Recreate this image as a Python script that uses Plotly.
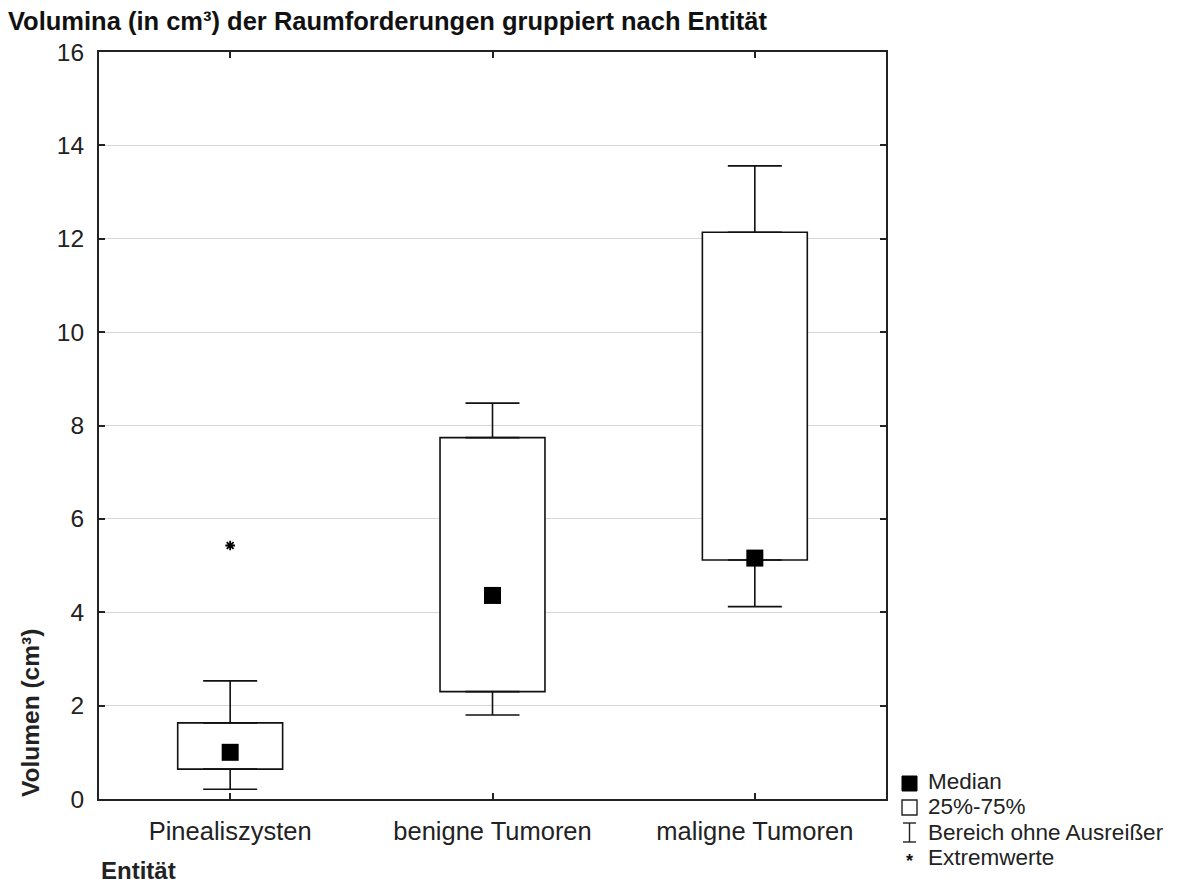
import plotly.graph_objects as go

# Volume statistics per entity (cm³)
categories = ["Pinealiszysten", "benigne Tumoren", "maligne Tumoren"]
whisker_low = [0.21, 1.80, 4.12]
q1 = [0.64, 2.30, 5.12]
median = [1.00, 4.36, 5.16]
q3 = [1.63, 7.74, 12.14]
whisker_high = [2.53, 8.48, 13.56]
extreme_cat = ["Pinealiszysten"]
extreme_val = [5.43]

y_ticks = [0, 2, 4, 6, 8, 10, 12, 14, 16]

legend_labels = ["Median", "25%-75%", "Bereich ohne Ausreißer", "Extremwerte"]

FONT = "Liberation Sans, Arial, sans-serif"
W, H = 1198, 885
ML, MR, MT, MB = 99, 312, 52, 86
PW, PH = W - ML - MR, H - MT - MB


def px(x):
    return (x - ML) / PW


def py(y):
    return (H - MB - y) / PH


fig = go.Figure()

# upper whiskers (q3 -> upper bound)
fig.add_trace(go.Scatter(
    x=categories, y=q3, mode="markers", marker=dict(size=1, opacity=0),
    error_y=dict(type="data", symmetric=False,
                 array=[h - t for h, t in zip(whisker_high, q3)],
                 arrayminus=[0, 0, 0],
                 color="#111", thickness=1.6, width=27),
    showlegend=False, hoverinfo="skip"))

# lower whiskers (q1 -> lower bound)
fig.add_trace(go.Scatter(
    x=categories, y=q1, mode="markers", marker=dict(size=1, opacity=0),
    error_y=dict(type="data", symmetric=False,
                 array=[0, 0, 0],
                 arrayminus=[b - l for b, l in zip(q1, whisker_low)],
                 color="#111", thickness=1.6, width=27),
    showlegend=False, hoverinfo="skip"))

# interquartile boxes
fig.add_trace(go.Bar(
    x=categories, base=q1, y=[t - b for t, b in zip(q3, q1)],
    width=0.4, marker=dict(color="white", line=dict(color="#111", width=1.6)),
    showlegend=False, hoverinfo="skip"))

# medians
fig.add_trace(go.Scatter(
    x=categories, y=median, mode="markers",
    marker=dict(symbol="square", size=17, color="black"),
    showlegend=False))

# extreme values
fig.add_trace(go.Scatter(
    x=extreme_cat, y=extreme_val, mode="markers",
    marker=dict(symbol="asterisk-open", size=8, color="black",
                line=dict(color="black", width=1.8)),
    showlegend=False))

axis_common = dict(
    showline=True, linecolor="#222", linewidth=2, mirror="allticks",
    ticks="inside", ticklen=6, tickcolor="#222", tickwidth=1.5,
    zeroline=False,
)

fig.update_xaxes(
    type="category", categoryorder="array", categoryarray=categories,
    range=[-0.5, 2.5], showgrid=False, ticklabelstandoff=8,
    tickfont=dict(family=FONT, size=25.5, color="#222"),
    **axis_common)
fig.update_yaxes(
    range=[0, 16], tickvals=y_ticks, showgrid=True,
    gridcolor="#d6d6d6", gridwidth=1, ticklabelstandoff=8,
    tickfont=dict(family=FONT, size=24.5, color="#222"),
    **axis_common)

annotations = [
    dict(text="<b>Volumen (cm³)</b>", textangle=-90, x=px(30), y=py(713),
         xref="paper", yref="paper", xanchor="center", yanchor="middle",
         showarrow=False, font=dict(family=FONT, size=24.5, color="#222")),
    dict(text="<b>Entität</b>", x=px(99), y=py(870),
         xref="paper", yref="paper", xanchor="left", yanchor="middle",
         showarrow=False, font=dict(family=FONT, size=24, color="#222")),
]

shapes = []
row_y = [781, 806.5, 832, 857.5]
for label, ry in zip(legend_labels, row_y):
    annotations.append(dict(
        text=label, x=px(926), y=py(ry), xref="paper", yref="paper",
        xanchor="left", yanchor="middle", showarrow=False,
        font=dict(family=FONT, size=22.5, color="#222")))

# legend glyphs
shapes.append(dict(type="rect", xref="paper", yref="paper",
                   x0=px(902), x1=px(917), y0=py(791), y1=py(776),
                   fillcolor="black", line=dict(color="black", width=1)))
shapes.append(dict(type="rect", xref="paper", yref="paper",
                   x0=px(902), x1=px(917), y0=py(815), y1=py(800),
                   fillcolor="white", line=dict(color="#222", width=1.4)))
for (x0, y0, x1, y1) in [(903, 823, 916, 823), (909.5, 823, 909.5, 842), (903, 842, 916, 842)]:
    shapes.append(dict(type="line", xref="paper", yref="paper",
                       x0=px(x0), x1=px(x1), y0=py(y0), y1=py(y1),
                       line=dict(color="#222", width=1.4)))
annotations.append(dict(
    text="<b>*</b>", x=px(909), y=py(861), xref="paper", yref="paper",
    xanchor="center", yanchor="middle", showarrow=False,
    font=dict(family=FONT, size=18, color="#111")))

fig.update_layout(
    width=W, height=H,
    margin=dict(l=ML, r=MR, t=MT, b=MB),
    paper_bgcolor="white", plot_bgcolor="white",
    bargap=0.6,
    title=dict(text="<b>Volumina (in cm³) der Raumforderungen gruppiert nach Entität</b>",
               xref="container", yref="container", x=8 / W, y=1 - 21 / H,
               xanchor="left", yanchor="middle",
               font=dict(family=FONT, size=25.5, color="#111")),
    annotations=annotations, shapes=shapes,
)

fig.write_html("out.html")
